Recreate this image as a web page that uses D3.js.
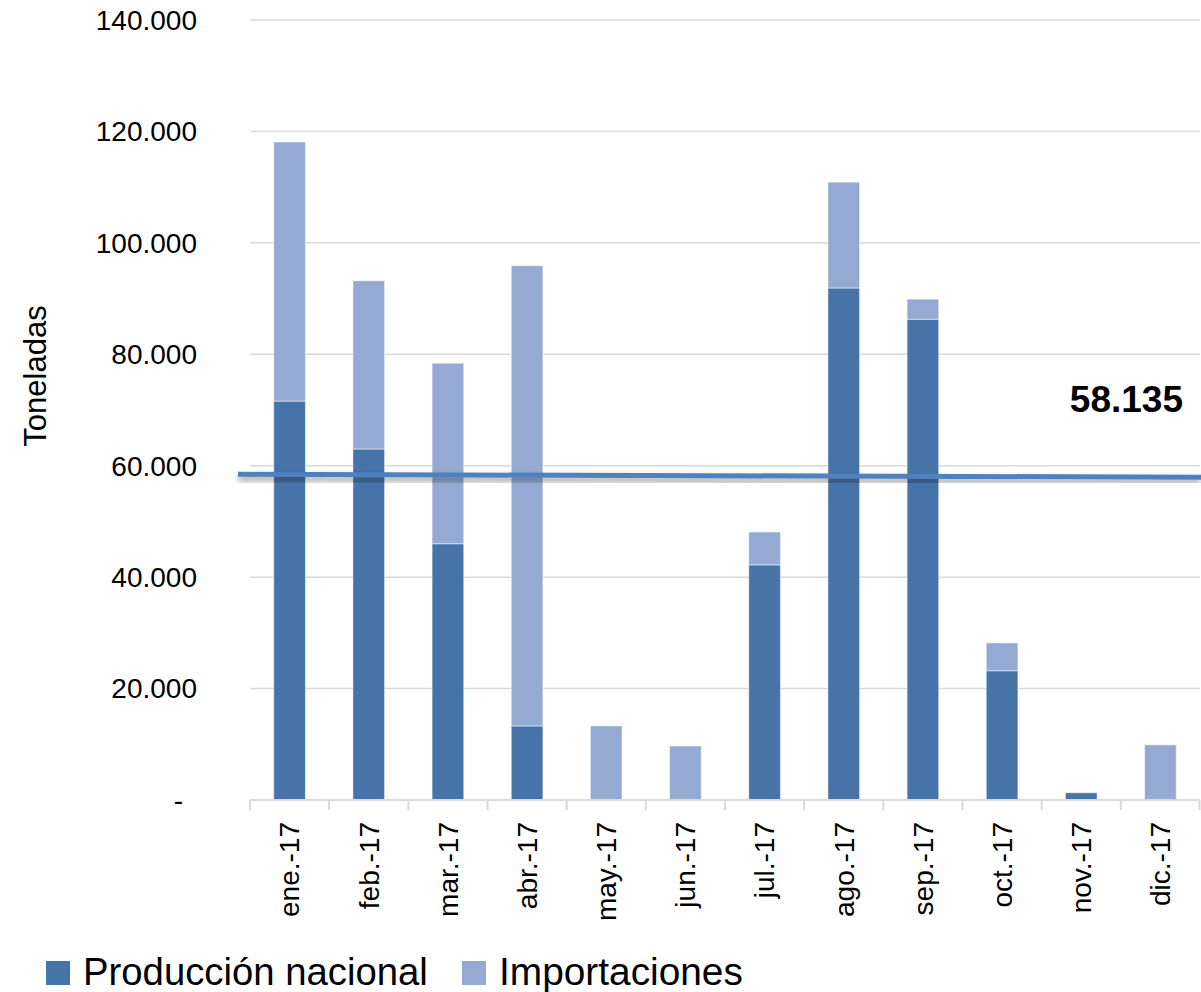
<!DOCTYPE html>
<html>
<head>
<meta charset="utf-8">
<script src="https://cdn.jsdelivr.net/npm/d3@7"></script>
<style>
  body { margin: 0; background: #fff; }
  svg text { font-family: "Liberation Sans", Arial, sans-serif; fill: #000; }
</style>
</head>
<body>
<div id="chart"></div>
<script>
  'use strict';

  // data (toneladas)
  var meses = ['ene.-17', 'feb.-17', 'mar.-17', 'abr.-17', 'may.-17', 'jun.-17',
               'jul.-17', 'ago.-17', 'sep.-17', 'oct.-17', 'nov.-17', 'dic.-17'];
  var produccion = [71600, 63000, 46000, 13300, 0, 0, 42200, 91900, 86300, 23200, 1300, 0];
  var importaciones = [46500, 30200, 32400, 82600, 13300, 9700, 5900, 19000, 3600, 5000, 0, 9900];
  var promedio = 58135;
  var promedioLinea = [58450, 57950]; // the drawn line tilts a little
  var yTicks = [0, 20000, 40000, 60000, 80000, 100000, 120000, 140000];
  var series = ['Producción nacional', 'Importaciones'];
  var colores = ['#4674a8', '#95aad2'];

  var width = 1201, height = 992;
  var margin = { top: 20, right: 1, bottom: 192, left: 250 };

  var svg = d3.select('#chart').append('svg')
      .attr('width', width)
      .attr('height', height);

  var defs = svg.append('defs');
  var shadow = defs.append('filter').attr('id', 'sombra')
      .attr('x', '-5%').attr('y', '-200%').attr('width', '110%').attr('height', '500%');
  shadow.append('feDropShadow')
      .attr('dx', 0).attr('dy', 4)
      .attr('stdDeviation', 3)
      .attr('flood-color', '#000')
      .attr('flood-opacity', 0.4);

  var x = d3.scaleBand()
      .domain(meses)
      .range([margin.left, width - margin.right])
      .paddingInner(0.6)
      .paddingOuter(0.3);

  var y = d3.scaleLinear()
      .domain([0, 140000])
      .range([height - margin.bottom, margin.top]);

  var loc = d3.formatLocale({ decimal: ',', thousands: '.', grouping: [3], currency: ['', ''] });
  var fmt = loc.format(',.0f');

  // gridlines
  svg.append('g').selectAll('line')
      .data(yTicks.filter(function (d) { return d > 0; }))
      .join('line')
      .attr('x1', margin.left).attr('x2', width - margin.right)
      .attr('y1', function (d) { return y(d); })
      .attr('y2', function (d) { return y(d); })
      .attr('stroke', '#d9d9d9')
      .attr('stroke-width', 1.5);

  // y axis labels
  svg.append('g').selectAll('text')
      .data(yTicks)
      .join('text')
      .attr('x', margin.left - 53)
      .attr('dx', function (d) { return d === 0 ? -14 : 0; })
      .attr('y', function (d) { return y(d); })
      .attr('dy', '0.35em')
      .attr('text-anchor', 'end')
      .style('font-size', '28px')
      .text(function (d) { return d === 0 ? '-' : fmt(d); });

  svg.append('text')
      .attr('transform', 'translate(46,' + ((y(140000) + y(0)) / 2 - 34) + ') rotate(-90)')
      .attr('text-anchor', 'middle')
      .style('font-size', '31px')
      .text('Toneladas');

  // stacked bars
  var rows = meses.map(function (m, i) {
    return { mes: m, p: produccion[i], imp: importaciones[i] };
  });
  var stack = d3.stack().keys(['p', 'imp'])(rows);

  svg.append('g').selectAll('g')
      .data(stack)
      .join('g')
      .attr('fill', function (d, i) { return colores[i]; })
      .selectAll('rect')
      .data(function (d) { return d; })
      .join('rect')
      .attr('x', function (d) { return x(d.data.mes); })
      .attr('width', x.bandwidth())
      .attr('y', function (d) { return y(d[1]); })
      .attr('height', function (d) { return Math.max(0, y(d[0]) - y(d[1])); })
      .attr('stroke', 'rgba(255,255,255,0.5)')
      .attr('stroke-width', function (d) { return d[1] > d[0] ? 1 : 0; });

  // x axis line and category boundary ticks
  var baseY = y(0);
  var bounds = meses.map(function (m) { return x(m) - x.step() * x.paddingInner() / 2; });
  bounds.push(width - margin.right - 0.5);
  var xAxis = svg.append('g');
  xAxis.append('line')
      .attr('x1', margin.left).attr('x2', width - margin.right)
      .attr('y1', baseY).attr('y2', baseY)
      .attr('stroke', '#d9d9d9').attr('stroke-width', 2);
  xAxis.selectAll('line.tick')
      .data(bounds)
      .join('line')
      .attr('class', 'tick')
      .attr('x1', function (d) { return d; }).attr('x2', function (d) { return d; })
      .attr('y1', baseY).attr('y2', baseY + 10)
      .attr('stroke', '#d9d9d9').attr('stroke-width', 2);
  xAxis.selectAll('text')
      .data(meses)
      .join('text')
      .attr('transform', function (d) {
        return 'translate(' + (x(d) + x.bandwidth() / 2) + ',' + (baseY + 22) + ') rotate(-90)';
      })
      .attr('text-anchor', 'end')
      .attr('dy', '0.35em')
      .style('font-size', '28px')
      .text(function (d) { return d; });

  // average line
  svg.append('line')
      .attr('x1', 238).attr('x2', width)
      .attr('y1', y(promedioLinea[0]))
      .attr('y2', y(promedioLinea[1]))
      .attr('stroke', '#4f81bd')
      .attr('stroke-width', 5)
      .attr('filter', 'url(#sombra)');

  svg.append('text')
      .attr('x', 1183)
      .attr('y', 412)
      .attr('text-anchor', 'end')
      .style('font-size', '37px')
      .style('font-weight', 'bold')
      .text(fmt(promedio));

  // legend (fit each label to the width it has in the original)
  var legX = [46, 462];
  var legW = [345, 244];
  var leg = svg.append('g').selectAll('g')
      .data(series)
      .join('g')
      .attr('transform', function (d, i) { return 'translate(' + legX[i] + ',961)'; });
  leg.append('rect')
      .attr('width', 24).attr('height', 24)
      .attr('fill', function (d, i) { return colores[i]; });
  leg.append('text')
      .attr('y', 24)
      .style('font-size', '38px')
      .text(function (d) { return d; })
      .attr('transform', function (d, i) {
        var w = this.getComputedTextLength();
        return 'translate(37,0) scale(' + (legW[i] / w) + ',1)';
      });
</script>
</body>
</html>
